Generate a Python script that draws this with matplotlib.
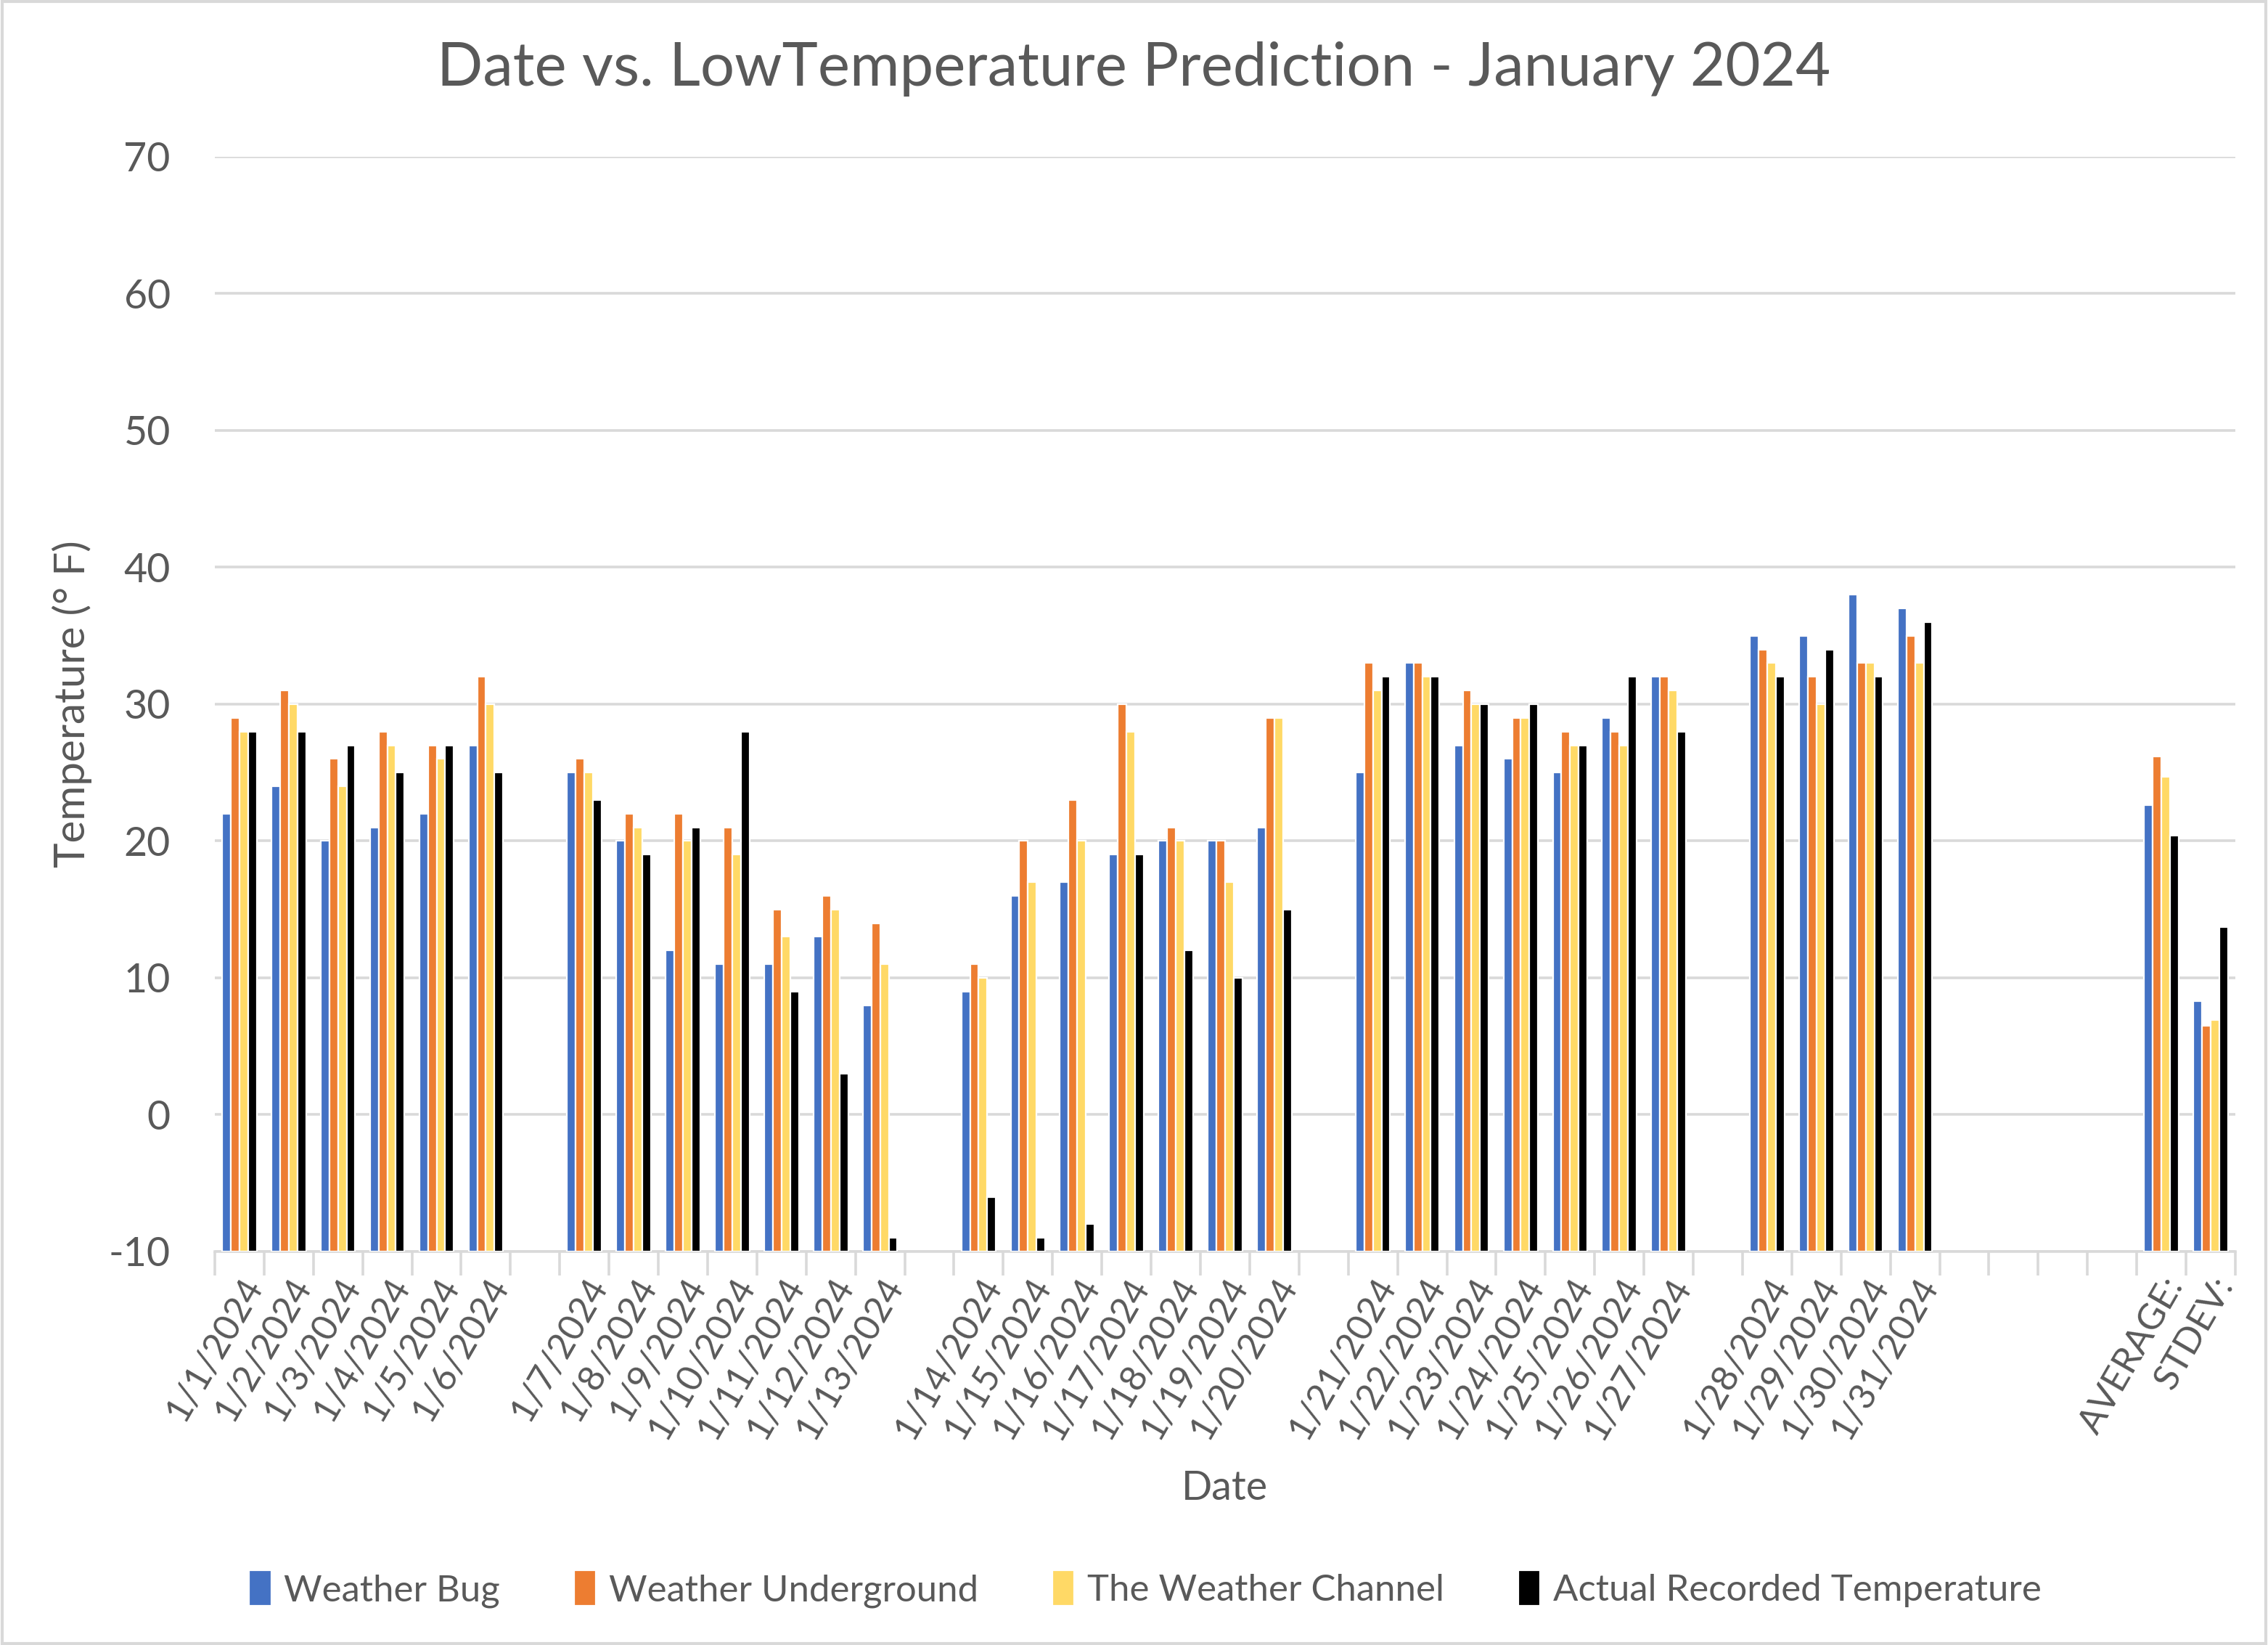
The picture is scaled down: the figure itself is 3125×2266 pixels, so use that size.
import numpy as np
import matplotlib
matplotlib.use("Agg")
import matplotlib.pyplot as plt
from matplotlib.patches import Rectangle

plt.rcParams['font.family'] = ['Lato', 'DejaVu Sans']
plt.rcParams['axes.unicode_minus'] = False

# Категорії (порожні рядки - пропуски між тижнями)
categories = ['1/1/2024', '1/2/2024', '1/3/2024', '1/4/2024', '1/5/2024', '1/6/2024', '',
              '1/7/2024', '1/8/2024', '1/9/2024', '1/10/2024', '1/11/2024', '1/12/2024', '1/13/2024', '',
              '1/14/2024', '1/15/2024', '1/16/2024', '1/17/2024', '1/18/2024', '1/19/2024', '1/20/2024', '',
              '1/21/2024', '1/22/2024', '1/23/2024', '1/24/2024', '1/25/2024', '1/26/2024', '1/27/2024', '',
              '1/28/2024', '1/29/2024', '1/30/2024', '1/31/2024', '', '', '', '',
              'AVERAGE:', 'STDEV:']

N = None
weather_bug = [22, 24, 20, 21, 22, 27, N,
               25, 20, 12, 11, 11, 13, 8, N,
               9, 16, 17, 19, 20, 20, 21, N,
               25, 33, 27, 26, 25, 29, 32, N,
               35, 35, 38, 37, N, N, N, N,
               22.6, 8.3]
weather_underground = [29, 31, 26, 28, 27, 32, N,
                       26, 22, 22, 21, 15, 16, 14, N,
                       11, 20, 23, 30, 21, 20, 29, N,
                       33, 33, 31, 29, 28, 28, 32, N,
                       34, 32, 33, 35, N, N, N, N,
                       26.2, 6.5]
weather_channel = [28, 30, 24, 27, 26, 30, N,
                   25, 21, 20, 19, 13, 15, 11, N,
                   10, 17, 20, 28, 20, 17, 29, N,
                   31, 32, 30, 29, 27, 27, 31, N,
                   33, 30, 33, 33, N, N, N, N,
                   24.7, 6.9]
actual = [28, 28, 27, 25, 27, 25, N,
          23, 19, 21, 28, 9, 3, -9, N,
          -6, -9, -8, 19, 12, 10, 15, N,
          32, 32, 30, 30, 27, 32, 28, N,
          32, 34, 32, 36, N, N, N, N,
          20.4, 13.7]

series = [
    ("Weather Bug", weather_bug, "#4472C4"),
    ("Weather Underground", weather_underground, "#ED7D31"),
    ("The Weather Channel", weather_channel, "#FFD966"),
    ("Actual Recorded Temperature", actual, "#000000"),
]

TEXT = "#595959"
GRID = "#D9D9D9"
BASE = -10

fig = plt.figure(figsize=(15.625, 11.33), dpi=200)
ax = fig.add_axes([0.0947, 0.2392, 0.8909, 0.6655])

x = np.arange(len(categories))
slot = 0.175
for i, (name, vals, col) in enumerate(series):
    v = np.array([np.nan if a is None else a for a in vals], dtype=float)
    offs = (i - 1.5) * slot
    ax.bar(x + offs, v - BASE, bottom=BASE, width=slot, color=col,
           edgecolor='white', linewidth=0.8, label=name, zorder=3)

ax.set_xlim(-0.5, len(categories) - 0.5)
ax.set_ylim(-10, 70)
ax.set_yticks(np.arange(-10, 71, 10))
ax.yaxis.grid(True, color=GRID, linewidth=1.3, zorder=0)
ax.tick_params(axis='y', length=0, labelsize=20, labelcolor=TEXT, pad=22)

# засічки на межах категорій, підписи по центрах
ax.set_xticks(np.arange(-0.5, len(categories), 1.0))
ax.set_xticklabels([])
ax.tick_params(axis='x', which='major', length=12, width=1.3, color=GRID)
ax.set_xticks(x, minor=True)
ax.set_xticklabels(categories, minor=True, rotation=60, ha='right',
                   rotation_mode='anchor', fontsize=18, color=TEXT)
ax.tick_params(axis='x', which='minor', length=0, pad=10)

for s in ['top', 'right', 'left']:
    ax.spines[s].set_visible(False)
ax.spines['bottom'].set_color(GRID)
ax.spines['bottom'].set_linewidth(1.3)

fig.text(0.5, 0.958, "Date vs. LowTemperature Prediction - January 2024", fontsize=30,
         color=TEXT, ha='center', va='center')
ax.set_ylabel("Temperature (° F)", fontsize=21, color=TEXT, labelpad=8)
fig.text(0.54, 0.095, "Date", fontsize=20, color=TEXT, ha='center', va='center')

fig.legend(loc='center', bbox_to_anchor=(0.505, 0.034), ncol=4, frameon=False,
           fontsize=18.3, labelcolor=TEXT, handlelength=0.6, handleheight=1.1,
           handletextpad=0.35, columnspacing=2.0)

fig.patches.append(Rectangle((0.001, 0.001), 0.998, 0.998, transform=fig.transFigure,
                             fill=False, edgecolor=GRID, linewidth=1.5))

fig.savefig("out.png", dpi=200, facecolor='white')
